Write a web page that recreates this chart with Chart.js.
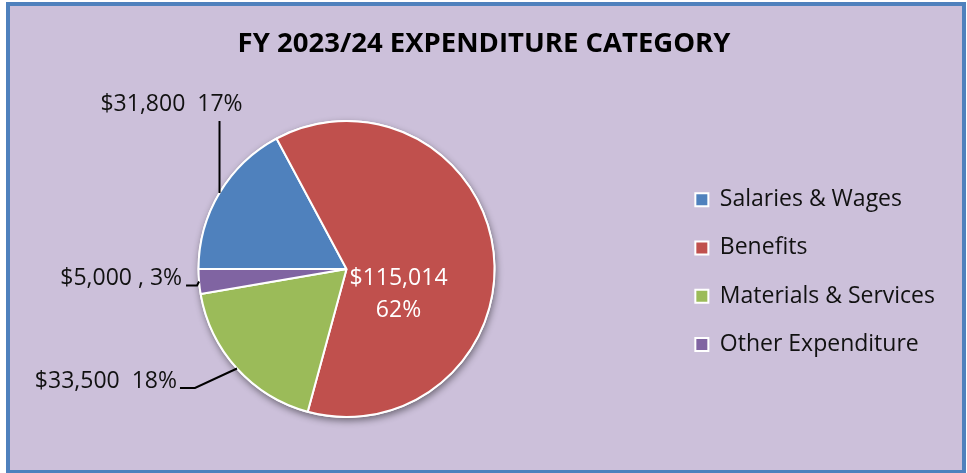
<!DOCTYPE html>
<html>
    <head>
        <title>FY 2023/24 Expenditure Category</title>
        <meta charset="utf-8">
        <script src="https://cdn.jsdelivr.net/npm/chart.js@4/dist/chart.umd.min.js"></script>
        <style>
            html, body { margin: 0; padding: 0; background: #ffffff; }
            .frame {
                position: absolute; left: 6px; top: 2px;
                width: 952px; height: 464px;
                border: 4px solid #4F81BD;
                background: #CCC0DA;
            }
            canvas { display: block; }
        </style>
    </head>
    <body>
        <div class="frame">
            <canvas id="myChart" width="952" height="464"></canvas>
        </div>
        <script>
            // chart data
            var categories = ['Salaries & Wages', 'Benefits', 'Materials & Services', 'Other Expenditure'];
            var amounts = [31800, 115014, 33500, 5000];
            var sliceColors = ['#4F81BD', '#C0504D', '#9BBB59', '#8064A2'];
            var valueLabels = ['$31,800  17%', '$115,014|62%', '$33,500  18%', '$5,000 , 3%'];

            // where each data label sits, relative to the slice's outer mid point
            // (pts = leader line points, txt = text anchor, align = text align)
            var labelSpots = [
                { pts: [[0, -72]], txt: [-48, -89], align: 'center', color: '#111' },
                { inside: true, txt: [52, 9], lineGap: 32, color: '#ffffff' },
                { pts: [[-42, 19.5], [-57, 19.5]], txt: [-60, 12.5], align: 'right', color: '#111' },
                { pts: [[-2, 4], [-13, 4]], txt: [-17, -3.5], align: 'right', color: '#111' }
            ];

            var FONT = "'Open Sans', 'DejaVu Sans', sans-serif";

            var pieShadow = {
                id: 'pieShadow',
                beforeDatasetsDraw: function(chart) {
                    var arc = chart.getDatasetMeta(0).data[0];
                    if (!arc) return;
                    var c = chart.ctx;
                    c.save();
                    c.shadowColor = 'rgba(0,0,0,0.45)';
                    c.shadowBlur = 7;
                    c.shadowOffsetX = 1;
                    c.shadowOffsetY = 3;
                    c.fillStyle = '#ffffff';
                    c.beginPath();
                    c.arc(arc.x, arc.y, arc.outerRadius + 1, 0, Math.PI * 2);
                    c.fill();
                    c.restore();
                }
            };

            var sliceLabels = {
                id: 'sliceLabels',
                afterDatasetsDraw: function(chart) {
                    var c = chart.ctx;
                    var arcs = chart.getDatasetMeta(0).data;
                    c.save();
                    c.font = '23px ' + FONT;
                    c.textBaseline = 'middle';
                    arcs.forEach(function(arc, i) {
                        var spot = labelSpots[i];
                        var text = valueLabels[i];
                        c.fillStyle = spot.color;
                        if (spot.inside) {
                            c.textAlign = 'center';
                            text.split('|').forEach(function(line, k) {
                                c.fillText(line, arc.x + spot.txt[0], arc.y + spot.txt[1] + k * spot.lineGap);
                            });
                            return;
                        }
                        var mid = (arc.startAngle + arc.endAngle) / 2;
                        var px = arc.x + Math.cos(mid) * arc.outerRadius;
                        var py = arc.y + Math.sin(mid) * arc.outerRadius;
                        c.strokeStyle = '#000';
                        c.lineWidth = 2;
                        c.beginPath();
                        c.moveTo(px, py);
                        spot.pts.forEach(function(p) { c.lineTo(px + p[0], py + p[1]); });
                        c.stroke();
                        c.textAlign = spot.align;
                        c.fillText(text, px + spot.txt[0], py + spot.txt[1]);
                    });
                    c.restore();
                }
            };

            var ctx = document.getElementById('myChart').getContext('2d');
            var chart = new Chart(ctx, {
                type: 'pie',
                data: {
                    labels: categories,
                    datasets: [{
                        data: amounts,
                        backgroundColor: sliceColors,
                        borderColor: '#ffffff',
                        borderWidth: 2
                    }]
                },
                options: {
                    responsive: false,
                    animation: false,
                    events: [],
                    rotation: 270,
                    layout: { padding: { left: 13, right: 17, top: 0, bottom: 52 } },
                    plugins: {
                        title: {
                            display: true,
                            text: 'FY 2023/24 EXPENDITURE CATEGORY',
                            color: '#000',
                            font: { family: FONT, size: 27.5, weight: 'bold' },
                            padding: { top: 22, bottom: 59 }
                        },
                        legend: {
                            position: 'right',
                            fullSize: false,
                            title: { display: true, text: ' ', font: { size: 1 }, padding: 2.5 },
                            labels: {
                                color: '#111',
                                font: { family: FONT, size: 23 },
                                boxWidth: 13,
                                boxHeight: 13,
                                padding: 25.3
                            }
                        },
                        tooltip: { enabled: false }
                    }
                },
                plugins: [pieShadow, sliceLabels]
            });
        </script>
    </body>
</html>
